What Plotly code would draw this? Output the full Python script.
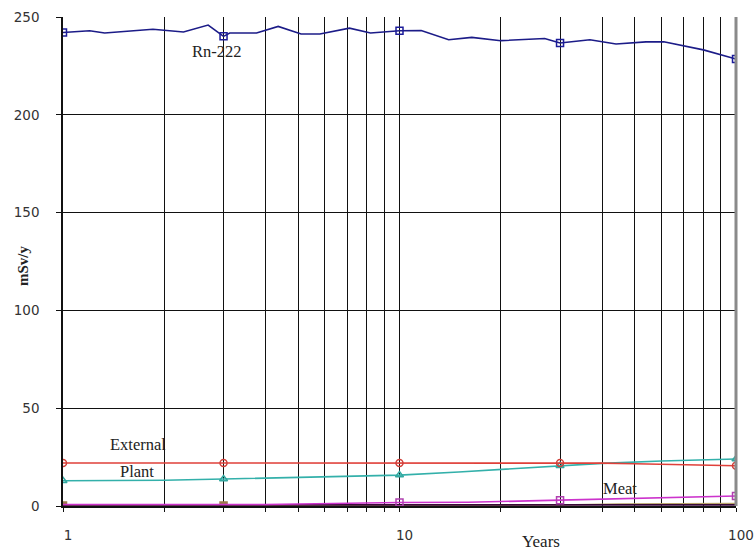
import math
import plotly.graph_objects as go

# ---------------- data ----------------
rn_years = [1, 1.2, 1.33, 1.48, 1.85, 2.28, 2.7, 3, 3.13, 3.76, 4.36, 5.1, 5.8, 7.1, 8.2, 10,
            11.6, 14, 16.4, 20, 27, 30, 36.8, 44, 54, 61, 80, 100]
rn_vals = [242.1, 243.0, 241.8, 242.3, 243.7, 242.3, 245.9, 240.1, 241.8, 241.8, 245.2, 241.3,
           241.3, 244.3, 241.8, 243.0, 243.1, 238.4, 239.6, 237.9, 239.0, 236.7, 238.4, 236.2,
           237.3, 237.3, 233.2, 228.5]

ext_years = [1, 3, 10, 30, 40, 50, 70, 90, 100]
ext_vals = [22.0, 22.0, 22.0, 22.0, 21.9, 21.6, 21.3, 20.9, 20.6]

plant_years = [1, 2, 3, 4, 6, 10, 15, 20, 30, 40, 60, 80, 100]
plant_vals = [12.9, 13.2, 13.8, 14.2, 14.9, 15.8, 17.4, 18.7, 20.6, 21.8, 23.0, 23.6, 24.0]

meat_years = [1, 4, 10, 16, 30, 50, 80, 100]
meat_vals = [0.8, 0.8, 1.8, 1.9, 3.0, 3.8, 4.6, 5.1]

other_years = [1, 3, 10, 30, 100]
other_vals = [0.6, 0.6, 0.6, 0.6, 0.6]

olive_years = [1, 10, 30, 45, 100]
olive_vals = [0.2, 0.3, 0.5, 1.0, 1.2]

marker_years = [1, 3, 10, 30, 100]

x_tick_vals = [1, 10, 100]
x_tick_text = ["1", "10", "100"]
x_minor_vals = [2, 3, 4, 5, 6, 7, 8, 9, 20, 30, 40, 50, 60, 70, 80, 90]
y_tick_vals = [0, 50, 100, 150, 200, 250]

labels = [("Rn-222", 217, 52), ("External", 138, 444), ("Plant", 137, 471), ("Meat", 620, 488)]


def at(years, vals, x):
    # value of a series at one of its years (piecewise, log-x)
    for i in range(len(years) - 1):
        if years[i] <= x <= years[i + 1]:
            a, b = math.log10(years[i]), math.log10(years[i + 1])
            t = 0 if b == a else (math.log10(x) - a) / (b - a)
            return vals[i] + t * (vals[i + 1] - vals[i])
    return vals[-1]


series = [
    ("olive", olive_years, olive_vals, "#b8a468", "square", "#9c7a4a", marker_years[:2]),
    ("other", other_years, other_vals, "#3a0a3a", None, None, []),
    ("Meat", meat_years, meat_vals, "#cc33cc", "square-open", "#b040b0", marker_years[2:]),
    ("Plant", plant_years, plant_vals, "#33b0aa", "triangle-up-open", "#33a8a0", marker_years),
    ("External", ext_years, ext_vals, "#e0403a", "circle-open", "#d0403a", marker_years),
    ("Rn-222", rn_years, rn_vals, "#1c1c88", "square-open", "#1c1c9a", marker_years),
]

fig = go.Figure()
for name, xs, ys, col, sym, mcol, myrs in series:
    fig.add_trace(go.Scatter(x=xs, y=ys, mode="lines", line=dict(color=col, width=1.6),
                             showlegend=False, hoverinfo="skip"))
    if sym:
        fig.add_trace(go.Scatter(x=myrs, y=[at(xs, ys, m) for m in myrs], mode="markers",
                                 marker=dict(symbol=sym, size=7, color=mcol,
                                             line=dict(color=mcol, width=1.5)),
                                 showlegend=False, hoverinfo="skip"))

W, H = 754, 550
L, R, T, B = 63, 18, 17, 44
pw, ph = W - L - R, H - T - B

serif = "Liberation Serif, Times New Roman, serif"
for txt, px, py in labels:
    fig.add_annotation(text=txt, x=(px - L) / pw, y=1 - (py - T) / ph, xref="paper", yref="paper",
                       showarrow=False, font=dict(family=serif, size=16.5, color="#222"),
                       xanchor="center", yanchor="middle")

fig.add_annotation(text="Years", x=(541 - L) / pw, y=1 - (541 - T) / ph, xref="paper", yref="paper",
                   showarrow=False, font=dict(family=serif, size=17, color="#222"),
                   xanchor="center", yanchor="middle")
fig.add_annotation(text="<b>mSv/y</b>", x=(23 - L) / pw, y=1 - (266 - T) / ph, xref="paper",
                   yref="paper", showarrow=False, textangle=-90,
                   font=dict(family=serif, size=15, color="#222"),
                   xanchor="center", yanchor="middle")

# right border (gray, thick)
fig.add_shape(type="line", xref="paper", yref="paper", x0=1, x1=1, y0=0, y1=1,
              line=dict(color="#8a8a8a", width=3))

fig.update_layout(
    width=W, height=H,
    margin=dict(l=L, r=R, t=T, b=B, autoexpand=False),
    paper_bgcolor="white", plot_bgcolor="white",
    font=dict(family="DejaVu Sans, Verdana, sans-serif", size=13.5, color="#333"),
    xaxis=dict(type="log", range=[0, 2], tickmode="array", tickvals=x_tick_vals,
               ticktext=x_tick_text, showgrid=True, gridcolor="#111", gridwidth=1,
               ticks="outside", ticklen=4, tickcolor="#111", showline=True, linecolor="#111",
               linewidth=1.5, zeroline=False, ticklabelstandoff=12, ticklabelshift=5,
               automargin=False,
               minor=dict(tickmode="array", tickvals=x_minor_vals, showgrid=True,
                          gridcolor="#111", gridwidth=1, ticks="outside", ticklen=4,
                          tickcolor="#111")),
    yaxis=dict(range=[0, 250], tickmode="array", tickvals=y_tick_vals, showgrid=True,
               gridcolor="#111", gridwidth=1, ticks="outside", ticklen=5, tickcolor="#111",
               showline=True, linecolor="#111", linewidth=1.5, zeroline=False,
               ticklabelstandoff=14, automargin=False),
)

fig.write_html("out.html", config={"displayModeBar": False},
               post_script="document.body.style.margin='0';document.body.style.overflow='hidden';")
